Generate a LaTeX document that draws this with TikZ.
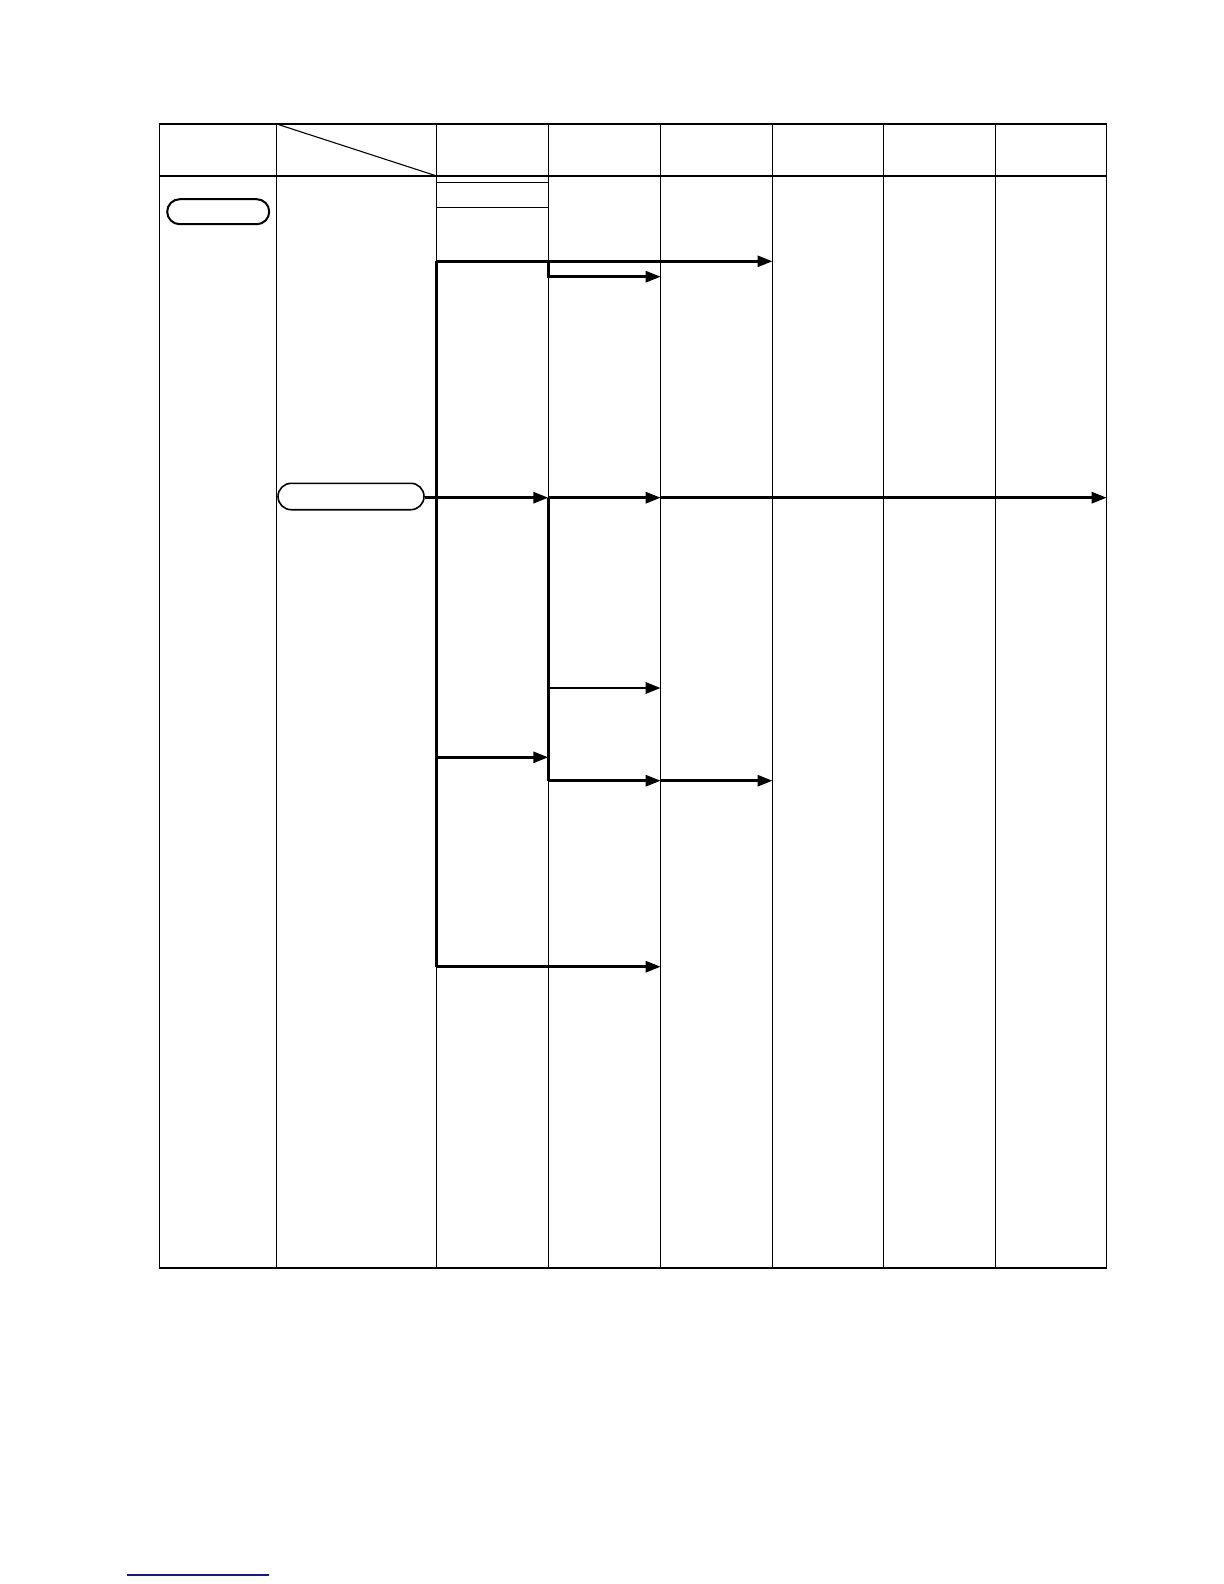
\documentclass[tikz,border=0pt]{standalone}
\usetikzlibrary{arrows.meta,shapes.misc}
\begin{document}
\begin{tikzpicture}[x=0.5pt,y=-0.5pt,
  tbl/.style={line width=0.65pt,black},
  flow/.style={line width=1.4pt,black},
  arr/.style={flow,-{Triangle[length=7.5pt,width=5.5pt]}},
  term/.style={draw,rounded rectangle,inner sep=0pt,line width=0.8pt}]
\useasboundingbox (0,0) rectangle (1224,1584);
% table frame
\draw[tbl] (159.3,124) rectangle (1106.7,1268);
\draw[tbl] (159.3,176) -- (1106.7,176);
\foreach \x in {276.7,436.7,548.3,660.7,772.5,883.5,995.7}
  \draw[tbl] (\x,124) -- (\x,1268);
\draw[line width=0.55pt] (276.7,124) -- (436.7,176);
\draw[tbl] (436.7,182.3) -- (548.3,182.3);
\draw[tbl] (436.7,207.3) -- (548.3,207.3);
% terminals
\node[term,line width=1pt,minimum width=51pt,minimum height=12.5pt] (t1) at (218.2,211.7) {};
\node[term,minimum width=73pt,minimum height=13.2pt] (t2) at (351,496.5) {};
% coordinates
\coordinate (a0) at (436.7,261.3);
\coordinate (a1) at (772.5,261.3);
\coordinate (b0) at (548.3,261.3);
\coordinate (b1) at (548.3,276.7);
\coordinate (b2) at (660.7,276.7);
\coordinate (c1) at (548.3,497.7);
\coordinate (c2) at (660.7,497.7);
\coordinate (c3) at (1106.7,497.7);
\coordinate (d1) at (548.3,688);
\coordinate (d2) at (660.7,688);
\coordinate (e0) at (436.7,757.3);
\coordinate (e1) at (548.3,757.3);
\coordinate (f1) at (548.3,780.7);
\coordinate (f2) at (660.7,780.7);
\coordinate (f3) at (772.5,780.7);
\coordinate (g0) at (436.7,966.7);
\coordinate (g1) at (660.7,966.7);
% flow lines
\draw[flow] (a0) -- (g0);
\draw[arr] (a0) -- (a1);
\draw[arr] (b0) -- (b1) -- (b2);
\draw[arr] (t2.east |- c1) -- (c1);
\draw[arr] (c1) -- (c2);
\draw[arr] (c2) -- (c3);
\draw[flow] (c1) -- (f1);
\draw[arr] (d1) -- (d2);
\draw[arr] (e0) -- (e1);
\draw[arr] (f1) -- (f2);
\draw[arr] (f2) -- (f3);
\draw[arr] (g0) -- (g1);
% blue underline at bottom
\coordinate (u0) at (127,1575);
\coordinate (u1) at (269,1575);
\draw[line width=0.6pt,color={rgb,255:red,20;green,20;blue,150}] (u0) -- (u1);
\end{tikzpicture}
\end{document}
